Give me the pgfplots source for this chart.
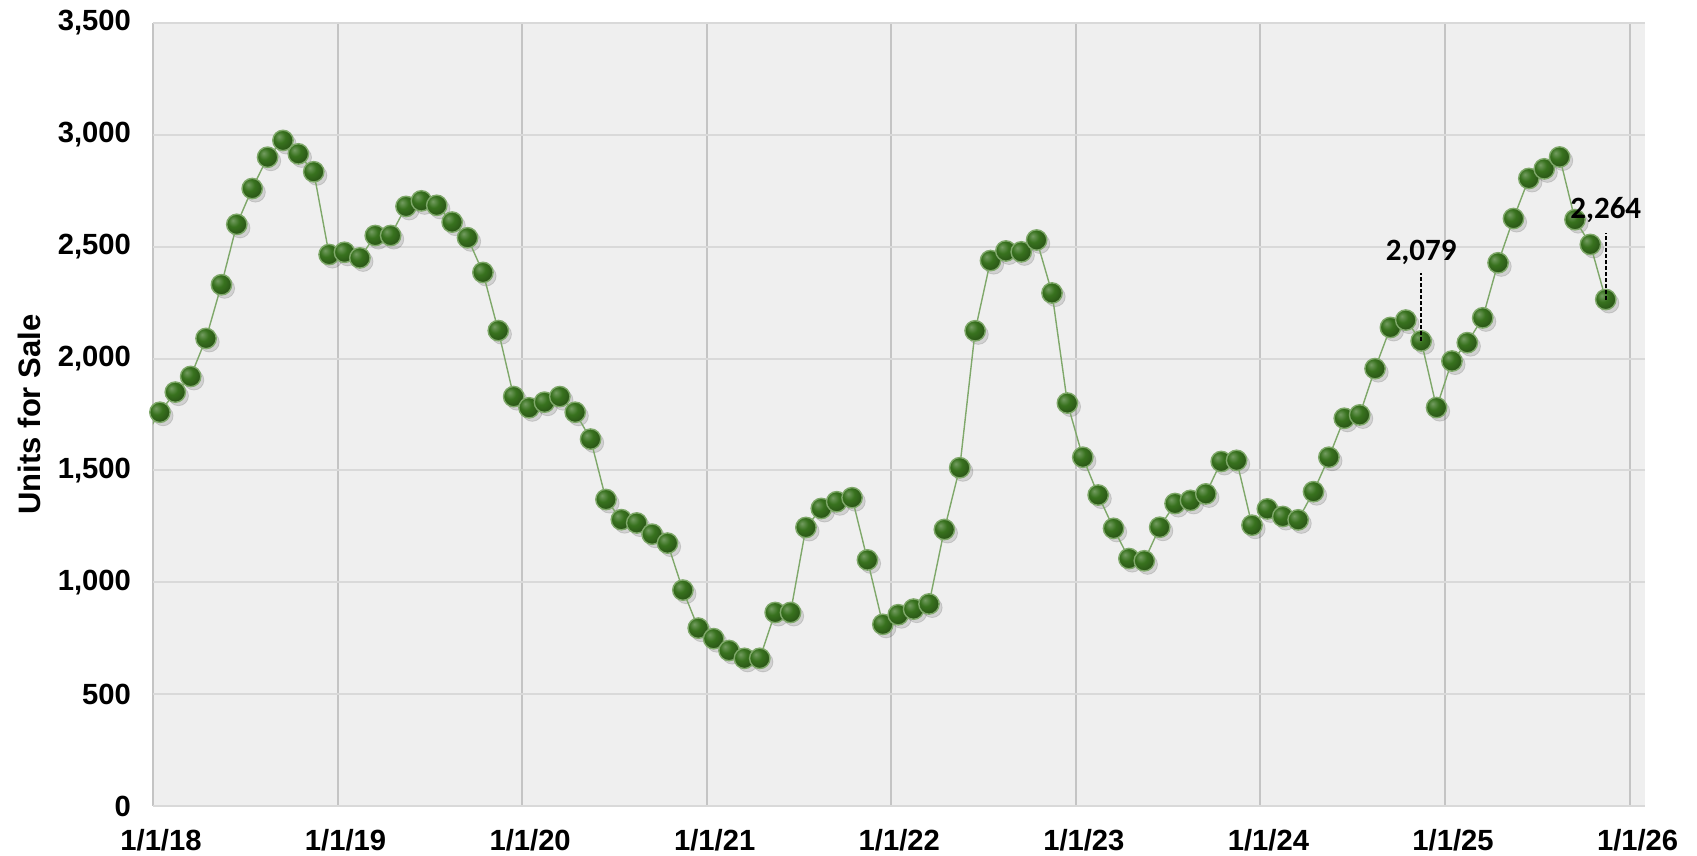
\documentclass[border=0pt]{standalone}
\usepackage{pgfplots}
\pgfplotsset{compat=1.18}
\usepackage{pgfplotstable}
\usepackage{fontspec}
\setmainfont{Liberation Sans}
\newfontfamily\carlito{Carlito}
\definecolor{bgc}{HTML}{EFEFEF}
\definecolor{hgrid}{HTML}{D9D9D9}
\definecolor{vgrid}{HTML}{C4C4C4}
\definecolor{linec}{HTML}{7FA86A}
\definecolor{ballc}{RGB}{56,114,30}
\makeatletter
\pgfdeclareradialshading[tikz@ball]{ball}{\pgfqpoint{-10bp}{10bp}}{%
  color(0bp)=(tikz@ball!70!white);
  color(14bp)=(tikz@ball);
  color(32bp)=(tikz@ball!72!black);
  color(50bp)=(tikz@ball!48!black);
  color(70bp)=(tikz@ball!40!black)}
\makeatother

\pgfplotstableread{
x y
-0.55 1650
0.45 1760
1.45 1850
2.45 1920
3.45 2090
4.45 2330
5.45 2600
6.45 2760
7.45 2900
8.45 2975
9.45 2915
10.45 2835
11.45 2465
12.45 2475
13.45 2450
14.45 2550
15.45 2550
16.45 2680
17.45 2705
18.45 2685
19.45 2610
20.45 2540
21.45 2385
22.45 2125
23.45 1830
24.45 1780
25.45 1805
26.45 1830
27.45 1760
28.45 1640
29.45 1370
30.45 1280
31.45 1265
32.45 1215
33.45 1175
34.45 965
35.45 795
36.45 748
37.45 695
38.45 660
39.45 660
40.45 865
41.45 865
42.45 1245
43.45 1330
44.45 1360
45.45 1378
46.45 1100
47.45 812
48.45 855
49.45 880
50.45 903
51.45 1236
52.45 1512
53.45 2124
54.45 2438
55.45 2481
56.45 2477
57.45 2530
58.45 2293
59.45 1801
60.45 1559
61.45 1390
62.45 1241
63.45 1106
64.45 1096
65.45 1246
66.45 1352
67.45 1366
68.45 1395
69.45 1540
70.45 1545
71.45 1255
72.45 1328
73.45 1294
74.45 1279
75.45 1405
76.45 1559
77.45 1733
78.45 1748
79.45 1955
80.45 2139
81.45 2172
82.45 2079
83.45 1781
84.45 1989
85.45 2071
86.45 2182
87.45 2428
88.45 2626
89.45 2805
90.45 2848
91.45 2901
92.45 2621
93.45 2510
94.45 2264
}\units

\begin{document}
\begin{tikzpicture}
\path[use as bounding box] (-76.5pt,-25pt) rectangle (772pt,403pt);
\begin{axis}[
  at={(0,0)}, anchor=south west,
  scale only axis,
  width=746pt, height=391.5pt,
  xmin=0, xmax=97,
  ymin=0, ymax=3500,
  clip mode=individual,
  axis background/.style={fill=bgc},
  axis line style={draw=none},
  xtick={0,12,24,36,48,60,72,84,96},
  xticklabels={1/1/18,1/1/19,1/1/20,1/1/21,1/1/22,1/1/23,1/1/24,1/1/25,1/1/26},
  ytick={0,500,1000,1500,2000,2500,3000,3500},
  major tick length=0pt,
  xmajorgrids, ymajorgrids,
  x grid style={draw=vgrid, line width=1pt},
  y grid style={draw=hgrid, line width=1pt},
  /pgf/number format/assume math mode=true,
  /pgf/number format/1000 sep={,},
  tick label style={font=\fontsize{14.6}{16}\selectfont\bfseries},
  yticklabel style={xshift=-7.5pt},
  xticklabel style={yshift=-8pt, xshift=4pt},
  ylabel={Units for Sale},
  ylabel style={font=\fontsize{15.5}{17}\selectfont\bfseries, at={(axis description cs:-0.0831,0.5)}, anchor=center},
]
\addplot[only marks, mark=*, mark size=5pt, draw=none, fill=black, opacity=0.12, mark options={xshift=1.6pt, yshift=-1.8pt}] table[x=x,y=y] {\units};
\addplot[linec, line width=0.7pt, mark=ball, mark size=5.1pt, mark options={ball color=ballc}] table[x=x,y=y] {\units};
\draw[black, dash pattern=on 2pt off 1pt, line width=1pt] (axis cs:82.45,2079) -- ([yshift=34pt]axis cs:82.45,2079);
\node[anchor=base, inner sep=0pt, font=\carlito\bfseries\fontsize{15.5}{17}\selectfont] at ([yshift=40pt]axis cs:82.45,2079) {2,079};
\draw[black, dash pattern=on 2pt off 1pt, line width=1pt] (axis cs:94.45,2264) -- ([yshift=33.5pt]axis cs:94.45,2264);
\node[anchor=base, inner sep=0pt, font=\carlito\bfseries\fontsize{15.5}{17}\selectfont] at ([yshift=40.5pt]axis cs:94.45,2264) {2,264};
\end{axis}
\end{tikzpicture}
\end{document}
